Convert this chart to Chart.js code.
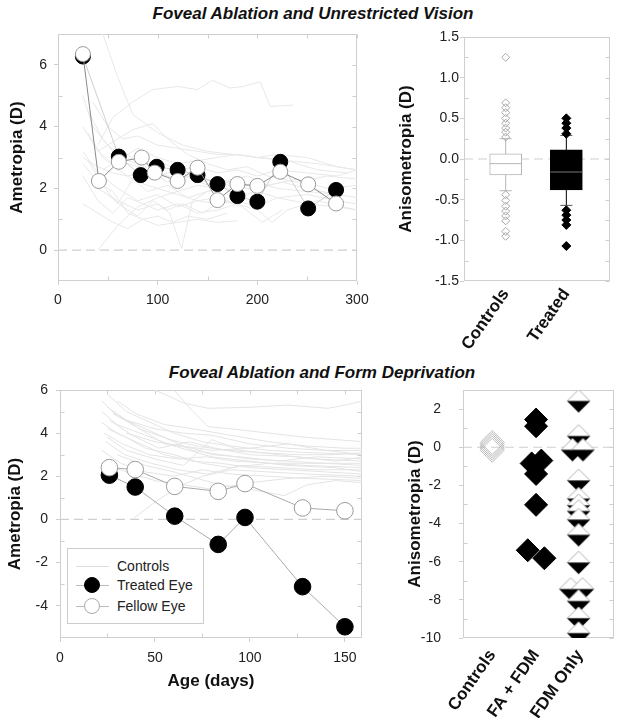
<!DOCTYPE html>
<html><head><meta charset="utf-8">
<script src="https://cdn.jsdelivr.net/npm/chart.js@4.4.0/dist/chart.umd.min.js"></script>
<style>
body{margin:0;background:#fff;width:627px;height:718px;position:relative;overflow:hidden;font-family:"Liberation Sans",Arial,sans-serif;}
canvas{position:absolute;}
.title{position:absolute;font-weight:bold;font-style:italic;font-size:17px;line-height:20px;color:#111;white-space:nowrap;transform:translateX(-50%);}
#legend{position:absolute;left:67px;top:548px;width:135px;height:74px;border:1px solid #ccc;background:#fff;}
.row{position:absolute;left:0;height:20px;width:135px;}
.row .ln{position:absolute;left:8px;width:33px;top:10px;height:1px;background:#bbb;}
.row .mk{position:absolute;left:16px;top:2px;width:16px;height:16px;border-radius:50%;box-sizing:border-box;}
.row .tx{position:absolute;left:49px;top:1px;font-size:14px;line-height:18px;color:#222;}
</style></head><body>
<div class="title" style="left:313px;top:4px">Foveal Ablation and Unrestricted Vision</div>
<div class="title" style="left:322px;top:363px">Foveal Ablation and Form Deprivation</div>
<canvas id="c1" width="376" height="305" style="left:0;top:20px"></canvas>
<canvas id="c2" width="257" height="340" style="left:370px;top:20px"></canvas>
<canvas id="c3" width="378" height="343" style="left:0;top:375px"></canvas>
<canvas id="c4" width="242" height="343" style="left:385px;top:375px"></canvas>
<div id="legend">
  <div class="row" style="top:7px"><div class="ln" style="background:#ddd"></div><div class="tx">Controls</div></div>
  <div class="row" style="top:26px"><div class="ln"></div><div class="mk" style="background:#000;border:1px solid #000"></div><div class="tx">Treated Eye</div></div>
  <div class="row" style="top:47px"><div class="ln"></div><div class="mk" style="background:#fff;border:1px solid #aaa"></div><div class="tx">Fellow Eye</div></div>
</div>
<script>
// ================= DATA =================
// Top-left: Foveal ablation, unrestricted vision (age in days, ametropia D)
const topTreatedAges = [25,61,83,99,120,140,160,180,200,223,251,279];
const topTreated     = [6.27,3.03,2.43,2.70,2.60,2.43,2.14,1.75,1.57,2.86,1.35,1.95];
const topFellowAges  = [25,41,61,84,97,120,140,160,180,200,223,251,279];
const topFellow      = [6.35,2.24,2.86,3.00,2.51,2.24,2.67,1.62,2.14,2.08,2.54,2.13,1.51];
const topControls = [
  [[25,3.2],[40,2.5],[60,2.0],[80,1.6],[100,1.8],[120,1.4],[140,1.6],[160,1.5],[180,1.6],[200,1.4],[220,1.7],[250,1.5],[280,1.4],[300,1.3]],
  [[30,4.5],[45,3.6],[60,3.0],[80,2.8],[100,2.5],[120,2.3],[140,2.4],[160,2.2],[180,2.0],[200,2.2],[220,2.0],[250,1.9],[280,1.8]],
  [[45,7.0],[60,5.6],[75,4.4],[100,3.8],[125,3.4],[150,3.2],[175,3.1],[200,3.0],[230,2.9],[260,2.8],[300,2.6]],
  [[40,3.4],[55,4.3],[75,4.8],[95,5.2],[120,5.3],[140,5.2],[155,5.5],[173,5.25],[186,5.3],[203,5.45],[213,4.65],[236,4.7]],
  [[25,2.8],[40,2.2],[55,1.9],[70,1.2],[85,1.0],[100,1.1],[115,0.9],[130,1.1],[150,1.0],[170,1.2]],
  [[40,2.0],[60,1.6],[80,1.3],[100,1.5],[112,1.2],[124,0.05],[135,1.6],[150,1.9],[170,2.0],[190,1.8],[210,2.1]],
  [[40,0.0],[60,0.8],[80,1.4],[100,1.7],[120,1.9],[140,2.1],[160,2.0]],
  [[25,5.0],[35,4.0],[50,3.4],[65,3.0],[80,3.3],[100,3.0],[120,2.8],[140,2.9],[160,3.0],[180,3.1],[200,3.0],[220,3.1],[250,3.0],[280,2.7],[300,2.6]],
  [[30,3.8],[45,3.0],[60,2.6],[80,2.2],[100,2.0],[120,1.8],[140,1.6],[160,1.7],[180,1.5],[200,1.3],[215,0.9],[230,1.3],[260,1.6],[300,1.3]],
  [[25,2.4],[40,1.6],[55,1.2],[70,1.7],[85,1.5],[100,1.3],[120,1.5],[140,1.2],[160,1.3],[180,1.5]],
  [[35,4.8],[50,4.0],[65,3.6],[80,3.7],[100,3.4],[120,3.3],[140,3.2],[160,3.1],[180,3.1],[200,3.0],[230,2.9],[260,2.6],[290,2.5]],
  [[25,3.0],[40,2.7],[55,2.5],[70,2.4],[90,2.6],[110,2.2],[130,2.4],[150,2.1],[175,2.3],[200,2.0],[225,2.2],[250,2.0],[280,1.8],[300,1.7]],
  [[30,2.9],[45,2.1],[60,1.5],[75,2.3],[90,1.9],[110,2.1],[130,1.7],[150,1.9],[170,2.2],[190,2.4],[210,2.1],[240,2.3],[270,2.0],[300,2.1]],
  [[40,3.2],[55,3.5],[75,3.9],[95,4.1],[110,3.6],[130,3.1],[150,2.8],[170,2.6],[190,2.7],[210,2.4],[240,2.2],[270,2.4],[300,2.3]],
  [[25,1.5],[40,1.2],[55,0.9],[70,0.7],[85,1.0],[100,0.8],[120,0.9],[140,1.0],[160,0.9],[180,0.95]],
  [[45,2.6],[60,2.9],[80,2.7],[100,2.9],[120,2.6],[140,2.7],[160,2.5],[180,2.6],[200,2.4],[220,2.6],[250,2.5],[280,2.4],[300,2.6]],
  [[25,4.0],[40,3.2],[55,2.8],[70,3.1],[85,2.6],[100,2.4],[120,2.6],[140,2.2],[160,2.3],[180,2.1],[200,1.9],[220,1.7],[250,1.8],[280,1.6],[300,1.5]],
  [[50,1.8],[65,1.4],[80,1.1],[95,1.6],[110,1.3],[125,1.5],[145,1.2],[165,1.6],[185,1.4],[205,0.9],[225,1.3]]
];
const topXTicks = [0,100,200,300];
const topYTicks = [0,2,4,6];

// Top-right: box plot of anisometropia
const boxCategories = ['Controls','Treated'];
const boxQ1      = [-0.195,-0.38];
const boxQ3      = [0.065,0.113];
const boxMedian  = [-0.057,-0.16];
const whiskerLow = [-0.39,-0.57];
const whiskerHigh= [0.25,0.29];
const controlsOutliers = [1.25,0.69,0.63,0.57,0.50,0.44,0.38,0.33,0.27,-0.44,-0.51,-0.58,-0.64,-0.70,-0.76,-0.89,-0.95];
const treatedOutliers  = [0.50,0.44,0.38,0.31,-0.63,-0.69,-0.75,-0.81,-1.07];
const boxYTicks = [-1.5,-1.0,-0.5,0,0.5,1.0,1.5];

// Bottom-left: Foveal ablation + form deprivation
const botAges    = [26,39.6,60.4,83.3,97.4,127.7,150];
const botTreated = [2.05,1.5,0.15,-1.16,0.09,-3.12,-4.98];
const botFellow  = [2.4,2.31,1.53,1.3,1.66,0.53,0.4];
const botControls = [
  [[25,5.8],[35,5.0],[45,4.6],[60,4.0],[75,3.6],[90,3.4],[110,3.2],[130,3.1],[160,3.0]],
  [[60,6.0],[70,5.0],[78,4.3],[90,4.2],[110,4.0],[130,3.8],[160,3.6]],
  [[50,6.0],[65,5.4],[78,5.15],[100,5.2],[120,5.3],[141,5.15],[150,5.3],[160,5.5]],
  [[22,5.5],[30,4.8],[40,4.4],[55,3.8],[70,3.2],[85,3.0],[100,2.8],[120,2.7],[140,2.6],[160,2.5]],
  [[25,5.2],[35,4.6],[50,4.2],[65,4.0],[80,3.9],[100,3.5],[120,3.3],[140,3.2],[160,3.2]],
  [[22,4.5],[30,4.0],[40,3.6],[55,3.0],[70,2.7],[85,2.6],[100,2.4],[120,2.3],[140,2.2],[160,2.1]],
  [[28,4.9],[40,4.3],[55,3.5],[70,3.3],[80,3.0],[95,2.9],[115,2.7],[135,2.9],[160,2.8]],
  [[25,3.8],[35,3.2],[50,2.8],[65,2.5],[80,3.7],[95,3.2],[115,3.0],[135,2.8],[160,2.7]],
  [[22,3.2],[32,2.6],[45,2.2],[60,2.0],[75,2.3],[90,2.1],[110,2.0],[130,1.9],[160,1.8]],
  [[38,0.0],[50,0.8],[62,1.5],[75,2.0],[90,2.3],[110,2.2],[130,2.1],[160,2.0]],
  [[25,4.2],[35,3.8],[45,3.3],[60,3.0],[75,2.6],[90,2.4],[110,2.6],[130,2.5],[160,2.4]],
  [[30,5.5],[40,4.9],[55,4.4],[70,4.2],[90,3.9],[110,3.6],[130,3.4],[150,3.3],[160,3.3]],
  [[22,2.6],[35,2.2],[50,1.8],[65,1.6],[80,1.4],[100,1.7],[120,1.9],[140,2.0],[160,1.9]],
  [[26,4.6],[38,3.9],[52,3.3],[68,3.6],[82,3.3],[100,3.0],[125,2.9],[145,2.7],[160,2.9]],
  [[24,3.6],[34,3.0],[48,2.6],[62,2.3],[78,2.1],[95,2.5],[115,2.4],[135,2.3],[160,2.3]],
  [[28,5.0],[42,4.2],[58,3.7],[72,3.4],[88,3.2],[105,3.1],[125,3.0],[145,3.0],[160,3.1]],
  [[23,4.0],[33,3.5],[47,3.0],[62,2.8],[77,2.9],[92,2.7],[112,2.6],[132,2.6],[160,2.6]],
  [[30,3.0],[45,2.5],[60,2.2],[72,1.9],[85,1.6],[100,1.4],[118,1.1],[130,1.6],[145,1.8],[160,1.7]],
  [[35,4.0],[50,3.6],[65,3.4],[80,3.2],[100,3.3],[120,3.5],[140,3.2],[160,3.0]],
  [[22,5.0],[30,4.4],[45,3.9],[60,3.4],[80,2.9],[100,2.7],[120,2.5],[145,2.4],[160,2.2]]
];
const botXTicks = [0,50,100,150];
const botYTicks = [-4,-2,0,2,4,6];

// Bottom-right: anisometropia per group
const anisoCategories = ['Controls','FA + FDM','FDM Only'];
const ctrlAniso   = [0.25,0.15,0.05,-0.05,-0.16];
const faFdmAniso  = [1.45,1.1,-0.7,-0.85,-1.4,-3.02,-5.4,-5.82];
const faFdmJitter = [0,0,0.12,-0.1,0,0,-0.19,0.19];
const fdmAniso    = [2.42,0.58,-0.14,-0.14,-1.75,-2.7,-3.05,-3.35,-3.8,-4.6,-6.05,-7.44,-7.44,-8.07,-8.97,-9.75];
const fdmJitter   = [0,0,-0.14,0.1,0,0,0,0,0,0,0,-0.18,0.09,0,0,0];
const anisoYTicks = [-10,-8,-6,-4,-2,0,2];

// ================= RENDER =================
const FONT = '"Liberation Sans", Arial, sans-serif';
const pts = (xs, ys) => xs.map((x,i)=>({x, y: ys[i]}));
const pairPts = arr => arr.map(p=>({x:p[0], y:p[1]}));

// frame + small inner ticks (minor ticks at midpoints between major ticks)
const framePlugin = {id:'frame', beforeDatasetsDraw(chart){
  const {ctx, chartArea:a, scales} = chart; ctx.save(); ctx.strokeStyle='#cfcfcf'; ctx.lineWidth=1;
  const L=Math.round(a.left)+0.5, T=Math.round(a.top)+0.5, R=Math.round(a.right)-0.5, B=Math.round(a.bottom)-0.5;
  ctx.strokeRect(L, T, R-L, B-T);
  const y=scales.y, ys=y.ticks.map(t=>t.value);
  ctx.beginPath();
  for(let i=0;i<ys.length;i++){
    const p=Math.round(y.getPixelForValue(ys[i]))+0.5;
    ctx.moveTo(R,p); ctx.lineTo(R-4,p);
    if(i<ys.length-1){ const q=Math.round(y.getPixelForValue((ys[i]+ys[i+1])/2))+0.5;
      ctx.moveTo(L,q); ctx.lineTo(L+4,q); ctx.moveTo(R,q); ctx.lineTo(R-4,q); }
  }
  const x=scales.x;
  if(chart.options.plugins.frame && chart.options.plugins.frame.xMinor){
    const xs=x.ticks.map(t=>t.value);
    for(let i=0;i<xs.length;i++){
      const p=Math.round(x.getPixelForValue(xs[i]))+0.5; ctx.moveTo(p,T); ctx.lineTo(p,T+4);
      if(i<xs.length-1){ const q=Math.round(x.getPixelForValue((xs[i]+xs[i+1])/2))+0.5;
        ctx.moveTo(q,B); ctx.lineTo(q,B-4); ctx.moveTo(q,T); ctx.lineTo(q,T+4); }
    }
  }
  ctx.stroke(); ctx.restore();
}};

const GRID = {display:true, drawOnChartArea:false, drawTicks:true, tickLength:4, color:'#cfcfcf'};
function noPad(s){ s.paddingLeft=0; s.paddingRight=0; s.paddingTop=0; s.paddingBottom=0; }
function yAxis(min,max,ticks,width,pad,titleText,titlePad,fmt){
  return {type:'linear', position:'left', min, max,
    grid:GRID, border:{display:false},
    ticks:{color:'#222', font:{family:FONT,size:14}, padding:pad, callback:fmt||(v=>v)},
    afterBuildTicks(s){ s.ticks = ticks.map(v=>({value:v})); },
    afterFit(s){ s.width = width; noPad(s); },
    title:{display:true, text:titleText, color:'#111', font:{family:FONT,size:17,weight:'bold'}, padding:{top:titlePad,bottom:0}}
  };
}
function xAxis(min,max,ticks,height,pad,opts,grid){
  const o = {type:'linear', position:'bottom', min, max, offset:false,
    grid:Object.assign({offset:false}, grid||GRID), border:{display:false},
    ticks:{color:'#222', font:{family:FONT,size:14}, padding:pad, autoSkip:false, maxRotation:0, minRotation:0},
    afterBuildTicks(s){ s.ticks = ticks.map(v=>({value:v})); },
    afterFit(s){ s.height = height; noPad(s); }
  };
  return Object.assign(o, opts||{});
}
const baseOpts = (padding, scales, xMinor) => ({responsive:false, animation:false, devicePixelRatio:1,
  layout:{padding}, plugins:{legend:{display:false}, tooltip:{enabled:false}, frame:{xMinor}}, scales});

function controlSets(list, color){
  return list.map(l=>({data:pairPts(l), showLine:true, borderColor:color, borderWidth:1, pointRadius:0, tension:0}));
}
const zeroLine = (a,b)=>({data:[{x:a,y:0},{x:b,y:0}], showLine:true, borderColor:'#cfcfcf', borderWidth:1.2, borderDash:[9,5], pointRadius:0});

// ---- Chart 1 ----
new Chart(document.getElementById('c1'), {type:'scatter', data:{datasets:[
  {data:pts(topFellowAges, topFellow), showLine:true, borderColor:'#8a8a8a', borderWidth:1, pointRadius:7.5, pointBackgroundColor:'#fff', pointBorderColor:'#9a9a9a', pointBorderWidth:1},
  {data:pts(topTreatedAges, topTreated), showLine:true, borderColor:'#cfcfcf', borderWidth:1, pointRadius:7.5, pointBackgroundColor:'#000', pointBorderColor:'#000', pointBorderWidth:1},
  ...controlSets(topControls, '#e8e8e8'),
  zeroLine(0,300)
]}, options: baseOpts({top:14,right:19,left:0,bottom:0}, {
  x: xAxis(0,300,topXTicks,44,7),
  y: yAxis(-1,7,topYTicks,58,7,'Ametropia (D)',7)
}, true), plugins:[framePlugin]});

// ---- Chart 2 (box plot) ----
const catPos = [1,2];
new Chart(document.getElementById('c2'), {type:'scatter', data:{datasets:[
  {data:Array(controlsOutliers.length).fill(1).map((x,i)=>({x, y:controlsOutliers[i]})), pointStyle:'rectRot', pointRadius:4, pointBackgroundColor:'rgba(255,255,255,0)', pointBorderColor:'#a8a8a8', pointBorderWidth:1},
  {data:Array(treatedOutliers.length).fill(2).map((x,i)=>({x, y:treatedOutliers[i]})), pointStyle:'rectRot', pointRadius:4.5, pointBackgroundColor:'#000', pointBorderColor:'#000'},
  {data:pts(catPos, boxMedian).slice(0,1), pointStyle:'line', pointRadius:16, pointBorderColor:'#b5b5b5', pointBorderWidth:1},
  {data:pts(catPos, boxMedian).slice(1,2), pointStyle:'line', pointRadius:16, pointBorderColor:'#777', pointBorderWidth:1},
  {type:'bar', data:catPos.map((x,i)=>({x, y:[boxQ1[i], boxQ3[i]]})), barThickness:32, grouped:false,
    backgroundColor:['#fff','#000'], borderColor:['#b5b5b5','#000'], borderWidth:1, borderSkipped:false},
  {data:[{x:1,y:whiskerLow[0]},{x:1,y:whiskerHigh[0]}], showLine:true, borderColor:'#b5b5b5', borderWidth:1, pointStyle:'line', pointRadius:6, pointBorderColor:'#b5b5b5'},
  {data:[{x:2,y:whiskerLow[1]},{x:2,y:whiskerHigh[1]}], showLine:true, borderColor:'#000', borderWidth:1, pointStyle:'line', pointRadius:6, pointBorderColor:'#555'},
  zeroLine(0.3125,2.72)
]}, options: baseOpts({top:14,right:9,left:0,bottom:0}, {
  x: xAxis(0.3125,2.72,catPos,79,4,{ticks:{color:'#111', font:{family:FONT,size:17,weight:'bold'}, padding:4, autoSkip:false, maxRotation:55, minRotation:55,
      callback:(v)=>boxCategories[catPos.indexOf(v)] ?? ''}}, {display:false, drawTicks:false}),
  y: yAxis(-1.5,1.5,boxYTicks,94,1,'Anisometropia (D)',26,v=>v.toFixed(1))
}, false), plugins:[framePlugin]});

// ---- Chart 3 ----
new Chart(document.getElementById('c3'), {type:'scatter', data:{datasets:[
  {data:pts(botAges, botFellow), showLine:true, borderColor:'#aaa', borderWidth:1, pointRadius:8.3, pointBackgroundColor:'#fff', pointBorderColor:'#9a9a9a', pointBorderWidth:1},
  {data:pts(botAges, botTreated), showLine:true, borderColor:'#aaa', borderWidth:1, pointRadius:8.3, pointBackgroundColor:'#000', pointBorderColor:'#000', pointBorderWidth:1},
  ...controlSets(botControls, '#e4e4e4'),
  zeroLine(0,159)
]}, options: baseOpts({top:15,right:16,left:0,bottom:0}, {
  x: xAxis(0,159,botXTicks,80,8,{title:{display:true, text:'Age (days)', color:'#111', font:{family:FONT,size:17,weight:'bold'}, padding:{top:0,bottom:26}}}),
  y: yAxis(-5.5,6,botYTicks,60,8,'Ametropia (D)',5)
}, true), plugins:[framePlugin]});

// ---- Chart 4 ----
function fdmMarker(r){
  const c=document.createElement('canvas'); const s=Math.ceil(2*r+2); c.width=s; c.height=s;
  const g=c.getContext('2d'); const m=s/2;
  g.beginPath(); g.moveTo(m-r,m); g.lineTo(m,m-r); g.lineTo(m+r,m); g.closePath();
  g.fillStyle='#fff'; g.fill(); g.strokeStyle='#b0b0b0'; g.lineWidth=1; g.stroke();
  g.beginPath(); g.moveTo(m-r,m); g.lineTo(m+r,m); g.lineTo(m,m+r); g.closePath();
  g.fillStyle='#000'; g.fill();
  return c;
}
const fdmImg = fdmMarker(11.5);
const catPos4 = [1,2,3];
new Chart(document.getElementById('c4'), {type:'scatter', data:{datasets:[
  {data:fdmAniso.map((y,i)=>({x:2.97+fdmJitter[i], y})), pointStyle:fdmImg, pointRadius:11.5},
  {data:faFdmAniso.map((y,i)=>({x:2+faFdmJitter[i], y})), pointStyle:'rectRot', pointRadius:11.5, pointBackgroundColor:'#000', pointBorderColor:'#000'},
  {data:ctrlAniso.map(y=>({x:1, y})), pointStyle:'rectRot', pointRadius:12, pointBackgroundColor:'rgba(255,255,255,0)', pointBorderColor:'#bdbdbd', pointBorderWidth:1},
  zeroLine(0.333,3.778)
]}, options: baseOpts({top:15,right:9,left:0,bottom:0}, {
  x: xAxis(0.333,3.778,catPos4,80,8,{ticks:{color:'#111', font:{family:FONT,size:17,weight:'bold'}, padding:8, autoSkip:false, maxRotation:55, minRotation:55,
      callback:(v)=>anisoCategories[catPos4.indexOf(v)] ?? ''}}, {display:false, drawTicks:false}),
  y: yAxis(-10,3,anisoYTicks,78,18,'Anisometropia (D)',20)
}, false), plugins:[framePlugin]});
</script>
</body></html>
